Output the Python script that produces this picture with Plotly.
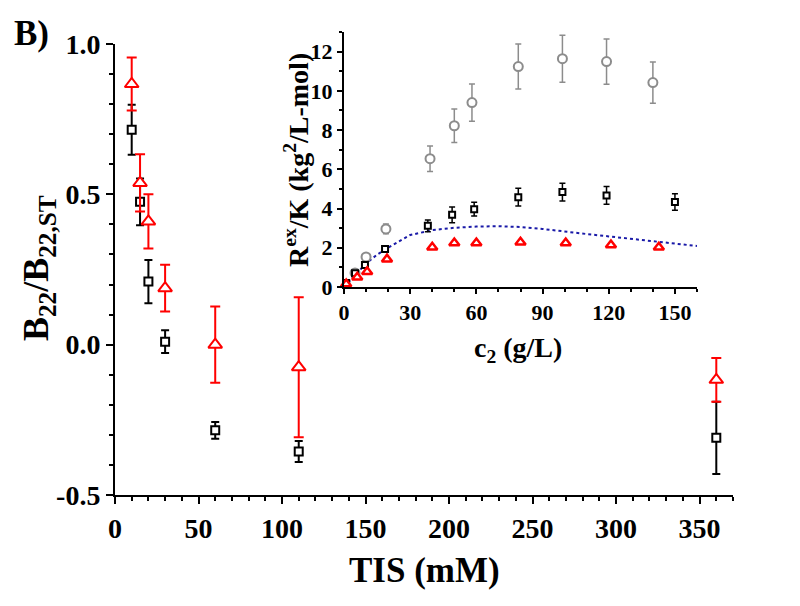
import plotly.graph_objects as go

# ---- main panel data (TIS in mM) ----
tis = [10, 15, 20, 30, 60, 110, 360]
b22_black = [0.715, 0.475, 0.21, 0.01, -0.285, -0.355, -0.31]
b22_black_err = [0.083, 0.078, 0.072, 0.038, 0.028, 0.035, 0.12]
b22_red = [0.867, 0.538, 0.41, 0.188, 0.0, -0.075, -0.117]
b22_red_err = [0.088, 0.095, 0.09, 0.078, 0.127, 0.233, 0.073]

main_xticks = [0, 50, 100, 150, 200, 250, 300, 350]
main_yticks = [-0.5, 0.0, 0.5, 1.0]
main_yticklabels = ["-0.5", "0.0", "0.5", "1.0"]

# ---- inset data (c2 in g/L) ----
c_gray = [5, 10, 19, 39, 50, 58, 79, 99, 119, 140]
r_gray = [0.72, 1.53, 2.96, 6.54, 8.22, 9.4, 11.24, 11.64, 11.49, 10.42]
r_gray_err = [0.1, 0.15, 0.25, 0.65, 0.85, 0.95, 1.15, 1.2, 1.15, 1.05]

c_black = [1, 5, 9.5, 18.6, 38, 49, 59, 79, 99, 119, 150]
r_black = [0.2, 0.7, 1.12, 1.94, 3.12, 3.68, 3.97, 4.58, 4.84, 4.67, 4.33]
r_black_err = [0.05, 0.1, 0.12, 0.15, 0.3, 0.4, 0.35, 0.45, 0.45, 0.45, 0.42]

c_red = [1, 6, 10.5, 19.5, 40, 50, 60, 80, 100.5, 121, 142.7]
r_red = [0.15, 0.5, 0.78, 1.42, 2.03, 2.24, 2.24, 2.28, 2.24, 2.14, 2.03]

c_fit = [0, 5, 10, 15, 20, 30, 40, 50, 60, 70, 80, 90, 100, 110, 120, 130, 140, 150, 160]
r_fit = [0, 0.6, 1.2, 1.65, 2.0, 2.65, 2.9, 3.02, 3.08, 3.1, 3.06, 2.96, 2.82, 2.7, 2.58, 2.45, 2.33, 2.2, 2.09]

inset_xticks = [0, 30, 60, 90, 120, 150]
inset_yticks = [0, 2, 4, 6, 8, 10, 12]

FONT = "Liberation Serif"
RED = "#ff0000"
GRAY = "#8c8c8c"
BLUE = "#1a1aa8"

W, H = 800, 606
OFF = 8  # page body margin offset
def px(x):
    return (x - OFF) / W
def py(y):
    return 1 - (y - OFF) / H

fig = go.Figure()

# main panel
fig.add_trace(go.Scatter(
    x=tis, y=b22_black, mode="markers", xaxis="x", yaxis="y",
    marker=dict(symbol="square", size=8, color="white", line=dict(color="black", width=2)),
    error_y=dict(type="data", array=b22_black_err, color="black", thickness=2, width=4),
    cliponaxis=False, showlegend=False))
fig.add_trace(go.Scatter(
    x=tis, y=b22_red, mode="markers", xaxis="x", yaxis="y",
    marker=dict(symbol="triangle-up", size=12, color="white", line=dict(color=RED, width=2)),
    error_y=dict(type="data", array=b22_red_err, color=RED, thickness=2, width=5),
    cliponaxis=False, showlegend=False))

# inset
fig.add_trace(go.Scatter(
    x=c_fit, y=r_fit, mode="lines", xaxis="x2", yaxis="y2",
    line=dict(color=BLUE, width=2, dash="3px,3px"), showlegend=False))
fig.add_trace(go.Scatter(
    x=c_gray, y=r_gray, mode="markers", xaxis="x2", yaxis="y2",
    marker=dict(symbol="circle", size=9, color="white", line=dict(color=GRAY, width=2)),
    error_y=dict(type="data", array=r_gray_err, color=GRAY, thickness=1.5, width=3),
    cliponaxis=False, showlegend=False))
fig.add_trace(go.Scatter(
    x=c_black, y=r_black, mode="markers", xaxis="x2", yaxis="y2",
    marker=dict(symbol="square", size=6, color="white", line=dict(color="black", width=2)),
    error_y=dict(type="data", array=r_black_err, color="black", thickness=1.5, width=3),
    cliponaxis=False, showlegend=False))
fig.add_trace(go.Scatter(
    x=c_red, y=r_red, mode="markers", xaxis="x2", yaxis="y2",
    marker=dict(symbol="triangle-up", size=9, color="white", line=dict(color=RED, width=2.5)),
    cliponaxis=False, showlegend=False))

tick_main = dict(family=FONT, size=28, color="black", weight="bold")
tick_inset = dict(family=FONT, size=22, color="black", weight="bold")

common = dict(showline=True, linecolor="black", linewidth=2, ticks="outside",
              tickcolor="black", tickwidth=2, showgrid=False, zeroline=False,
              mirror=False, automargin=False)

fig.update_layout(
    width=W, height=H,
    margin=dict(l=0, r=0, t=0, b=0, autoexpand=False),
    paper_bgcolor="white", plot_bgcolor="white",
    xaxis=dict(domain=[px(115), px(733)], range=[0, 370], anchor="y",
               tickvals=main_xticks, ticklen=7, tickfont=tick_main,
               minor=dict(dtick=10, ticklen=4, tickwidth=1.5, tickcolor="black", ticks="outside", showgrid=False),
               **common),
    yaxis=dict(domain=[py(495), py(44)], range=[-0.5, 1.0], anchor="x",
               tickvals=main_yticks, ticktext=main_yticklabels, ticklen=7, tickfont=tick_main,
               minor=dict(dtick=0.1, ticklen=4, tickwidth=1.5, tickcolor="black", ticks="outside", showgrid=False),
               **common),
    xaxis2=dict(domain=[px(344), px(697)], range=[0, 160], anchor="y2",
                tickvals=inset_xticks, ticklen=5, tickfont=tick_inset,
                minor=dict(dtick=10, ticklen=3, tickwidth=1.5, tickcolor="black", ticks="outside", showgrid=False),
                **common),
    yaxis2=dict(domain=[py(287), py(32)], range=[0, 13], anchor="x2",
                tickvals=inset_yticks, ticklen=5, tickfont=tick_inset,
                minor=dict(dtick=1, ticklen=3, tickwidth=1.5, tickcolor="black", ticks="outside", showgrid=False),
                **common),
)

title_font = dict(family=FONT, color="black", weight="bold")
fig.add_annotation(text="B)", x=px(31), y=py(34), xref="paper", yref="paper",
                   showarrow=False, xanchor="center", yanchor="middle",
                   font=dict(size=35, **title_font))
fig.add_annotation(text="TIS (mM)", x=px(424), y=py(570), xref="paper", yref="paper",
                   showarrow=False, xanchor="center", yanchor="middle",
                   font=dict(size=35, **title_font))
fig.add_annotation(text="B<sub>22</sub>/B<sub>22,ST</sub>", x=px(38), y=py(268),
                   xref="paper", yref="paper", textangle=-90,
                   showarrow=False, xanchor="center", yanchor="middle",
                   font=dict(size=36, **title_font))
fig.add_annotation(text="c<sub>2</sub> (g/L)", x=px(518), y=py(350), xref="paper", yref="paper",
                   showarrow=False, xanchor="center", yanchor="middle",
                   font=dict(size=28, **title_font))
fig.add_annotation(text="R<sup>ex</sup>/K (kg<sup>2</sup>/L-mol)", x=px(297), y=py(160),
                   xref="paper", yref="paper", textangle=-90,
                   showarrow=False, xanchor="center", yanchor="middle",
                   font=dict(size=28, **title_font))

fig.write_html("out.html")
